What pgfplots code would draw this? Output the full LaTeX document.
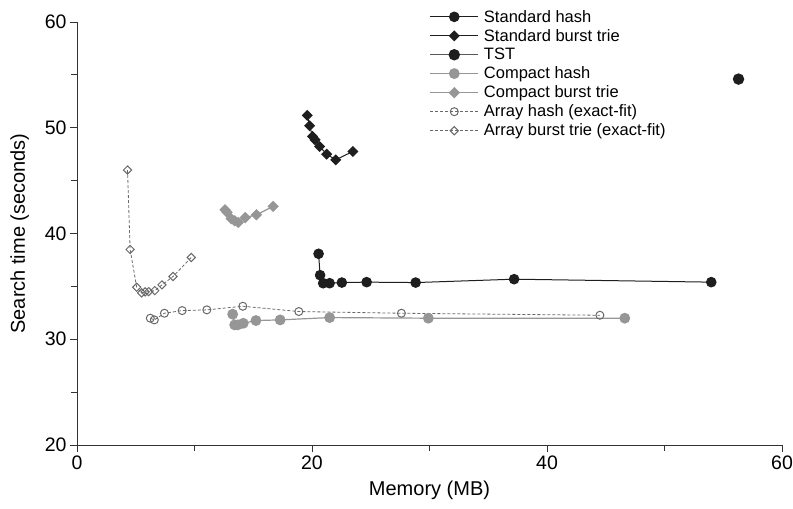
\documentclass[border=0pt]{standalone}
\usepackage{fontspec}
\setmainfont{Liberation Sans}
\usepackage{pgfplots}
\pgfplotsset{compat=1.18}
\definecolor{dk}{RGB}{30,30,30}
\definecolor{gr}{RGB}{150,150,150}
\definecolor{og}{RGB}{105,105,105}
\begin{document}
\begin{tikzpicture}
\begin{axis}[name=ax, scale only axis, width=705pt, height=423pt,
  xmin=0, xmax=60, ymin=20, ymax=60,
  axis lines=left, axis line style={-, black!80, line width=0.9pt},
  xtick={0,20,40,60}, minor xtick={10,30,50},
  ytick={20,30,...,60}, minor ytick={25,35,45,55},
  tick align=outside, major tick length=7pt, minor tick length=6pt,
  tick style={black!80, line width=0.9pt},
  ticklabel style={font=\fontsize{19.5}{20}\selectfont},
  /pgf/number format/assume math mode=true,
  xlabel={Memory (MB)}, ylabel={Search time (seconds)},
  label style={font=\fontsize{20}{22}\selectfont},
  xlabel style={yshift=-5pt}, ylabel style={yshift=9pt},
  legend style={draw=none, fill=none, at={(0.497,1.038)}, anchor=north west,
    font=\fontsize{16.5}{18}\selectfont, row sep=1.6pt, inner sep=2pt,
    nodes={inner xsep=5pt}},
  legend cell align=left,
  legend image code/.code={\draw[mark repeat=2,mark phase=2,#1] plot coordinates {(0pt,0pt)(24pt,0pt)(48pt,0pt)};},
  clip=false]

\addplot[dk, line width=1pt, mark=*, mark size=4.8pt, mark options={fill=dk}] coordinates {
(20.56,38.08)(20.69,36.06)(20.95,35.3)(21.5,35.3)(22.54,35.36)(24.65,35.4)(28.82,35.36)(37.2,35.68)(53.98,35.4)};
\addlegendentry{Standard hash}

\addplot[dk, line width=1pt, mark=square*, mark size=3.4pt, mark options={fill=dk, rotate=45}] coordinates {
(19.6,51.17)(19.8,50.19)(20.04,49.18)(20.26,48.86)(20.65,48.23)(21.25,47.5)(22.02,46.97)(23.48,47.76)};
\addlegendentry{Standard burst trie}

\addplot[black!65, line width=1.4pt, mark=*, mark size=5pt, mark options={fill=dk, draw=dk}] coordinates {
(56.3,54.6)};
\addlegendentry{TST}

\addplot[gr, line width=1.2pt, mark=*, mark size=4.8pt, mark options={fill=gr}] coordinates {
(13.25,32.37)(13.42,31.36)(13.68,31.36)(14.15,31.51)(15.23,31.77)(17.29,31.83)(21.5,32.05)(29.9,31.99)(46.62,31.99)};
\addlegendentry{Compact hash}

\addplot[gr, line width=1.2pt, mark=square*, mark size=3.4pt, mark options={fill=gr, rotate=45}] coordinates {
(12.6,42.24)(12.77,42.0)(13.12,41.4)(13.42,41.2)(13.72,41.04)(14.32,41.5)(15.27,41.77)(16.69,42.56)};
\addlegendentry{Compact burst trie}

\addplot[og, line width=0.8pt, densely dashed, mark=o, mark size=4pt, mark options={solid, fill=white, line width=1pt}] coordinates {
(6.24,31.99)(6.58,31.83)(7.44,32.46)(8.95,32.71)(11.05,32.78)(14.11,33.12)(18.88,32.62)(27.61,32.46)(44.5,32.27)};
\addlegendentry{Array hash (exact-fit)}

\addplot[og, line width=0.8pt, densely dashed, mark=square, mark size=2.9pt, mark options={solid, fill=white, rotate=45, line width=1pt}] coordinates {
(4.3,46.0)(4.52,38.49)(5.08,34.92)(5.5,34.38)(5.8,34.48)(6.1,34.5)(6.62,34.6)(7.23,35.14)(8.17,35.93)(9.72,37.73)};
\addlegendentry{Array burst trie (exact-fit)}
\end{axis}
\pgfresetboundingbox
\path ([shift={(-77pt,-63pt)}]ax.south west) rectangle ([shift={(11pt,22pt)}]ax.north east);
\end{tikzpicture}
\end{document}
